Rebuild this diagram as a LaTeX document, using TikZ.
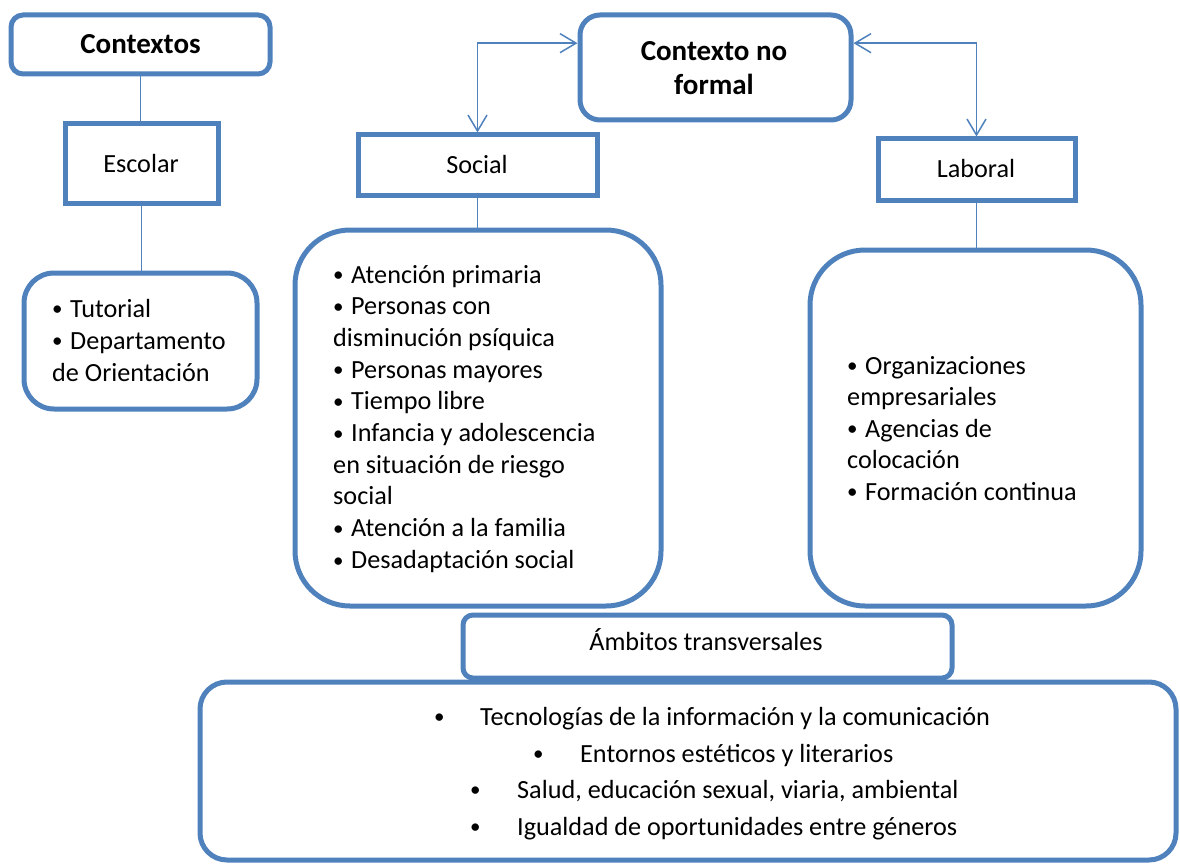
\documentclass[tikz,border=0pt]{standalone}
\usepackage{fontspec}
\setmainfont{Carlito}
\usetikzlibrary{arrows.meta}
\definecolor{boxblue}{HTML}{4F81BD}
% small list bullet followed by a fixed gap
\newcommand{\lbul}{\makebox[18pt][l]{\raisebox{1.2pt}{\fontsize{21}{21}\selectfont•}}}
\begin{document}
\begin{tikzpicture}[x=1pt,y=-1pt,
  box/.style={draw=boxblue, line width=5pt, fill=white, inner sep=0pt},
  rbox/.style={box, rounded corners=#1},
  link/.style={draw=boxblue, line width=1.5pt},
  biarrow/.style={link, {Straight Barb[length=16pt,width=19pt]}-{Straight Barb[length=16pt,width=19pt]}},
  txt/.style={font=\fontsize{26.2}{32}\selectfont, inner sep=0pt, anchor=base west},
  ctxt/.style={txt, anchor=base},
  btxt/.style={font=\fontsize{29}{34}\bfseries\selectfont, inner sep=0pt, anchor=base},
]
\useasboundingbox (0,0) rectangle (1180,864);

% --- boxes ---
\node[rbox=12pt, minimum width=259pt, minimum height=59pt] (ctx) at (140.5,44.5) {};
\node[box, minimum width=153pt, minimum height=79pt] (esc) at (141.5,163.5) {};
\node[rbox=30pt, minimum width=233pt, minimum height=136pt] (tut) at (140.5,341) {};
\node[rbox=20pt, minimum width=271pt, minimum height=105pt] (cnf) at (715.5,67.5) {};
\node[box, minimum width=239pt, minimum height=60pt] (soc) at (477.5,165) {};
\node[rbox=55pt, minimum width=366pt, minimum height=376pt] (slist) at (478,418) {};
\node[box, minimum width=197pt, minimum height=61pt] (lab) at (976.5,169.5) {};
\node[rbox=55pt, minimum width=331pt, minimum height=356pt] (llist) at (975.5,428) {};
\node[rbox=27pt, minimum width=976pt, minimum height=178pt] (trans) at (688,771) {};
\node[rbox=10pt, minimum width=489pt, minimum height=63pt] (amb) at (707.5,646.5) {};

% --- connectors ---
\draw[link] (ctx.south) -- (ctx.south |- esc.north);
\draw[link] (esc.south) -- (esc.south |- tut.north);
\draw[link] (soc.south) -- (soc.south |- slist.north);
\draw[link] (lab.south) -- (lab.south |- llist.north);
\draw[biarrow] (cnf.170) -| (soc.north);
\draw[biarrow] (cnf.10) -| (lab.north);

% --- titles ---
\node[btxt] (tctx) at (140.5,54) {Contextos};
\node[btxt] (tcnf1) at (714,61) {Contexto no};
\node[btxt] (tcnf2) at (714,95) {formal};
\node[ctxt] (tesc) at (141,172) {Escolar};
\node[ctxt] (tsoc) at (477,173) {Social};
\node[ctxt] (tlab) at (976,177) {Laboral};
\node[ctxt] (tamb) at (706,650) {Ámbitos transversales};

% --- school list ---
\node[txt] (e1) at (52,317) {\lbul Tutorial};
\node[txt] (e2) at (52,349) {\lbul Departamento};
\node[txt] (e3) at (52,381) {de Orientación};

% --- social list ---
\foreach \t [count=\i] in {%
  {\lbul Atención primaria},
  {\lbul Personas con},
  {disminución psíquica},
  {\lbul Personas mayores},
  {\lbul Tiempo libre},
  {\lbul Infancia y adolescencia},
  {en situación de riesgo},
  {social},
  {\lbul Atención a la familia},
  {\lbul Desadaptación social}}
  \node[txt] (s\i) at (333,{283+31.7*(\i-1)}) {\t};

% --- labour list ---
\foreach \t [count=\i] in {%
  {\lbul Organizaciones},
  {empresariales},
  {\lbul Agencias de},
  {colocación},
  {\lbul Formación continua}}
  \node[txt] (l\i) at (847,{374+31.5*(\i-1)}) {\t};

% --- cross-cutting list ---
\node[txt] (b1) at (434,725) {\lbul};
\node[txt] (t1) at (480,725) {Tecnologías de la información y la comunicación};
\node[txt] (b2) at (533,762) {\lbul};
\node[txt] (t2) at (580,762) {Entornos estéticos y literarios};
\node[txt] (b3) at (470,798) {\lbul};
\node[txt] (t3) at (517,798) {Salud, educación sexual, viaria, ambiental};
\node[txt] (b4) at (470,835) {\lbul};
\node[txt] (t4) at (517,835) {Igualdad de oportunidades entre géneros};
\end{tikzpicture}
\end{document}
